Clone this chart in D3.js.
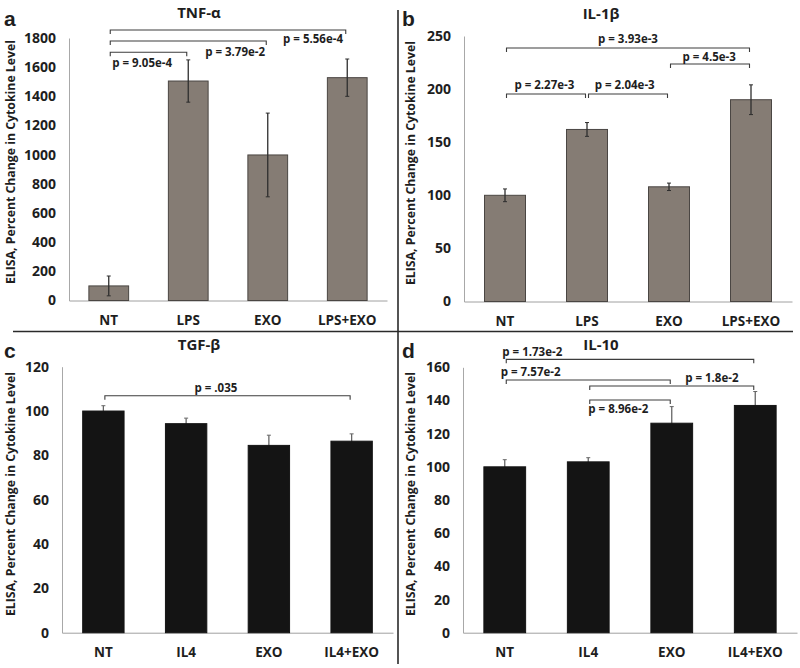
<!doctype html>
<html>
  <head>
    <meta charset="utf-8">
    <title>ELISA cytokine levels</title>
    <script src="https://cdnjs.cloudflare.com/ajax/libs/d3/7.8.5/d3.min.js"></script>
    <style>
      body { margin: 0; background: #fff; }
      text { font-family: "Open Sans", sans-serif; font-weight: 700; fill: #1e1e1e; }
      .panel-letter { font-family: "Liberation Sans", Arial, sans-serif; }
    </style>
  </head>
  <body>
    <div id="chart"></div>
    <script>
      // data
      const categoriesTop = ["NT", "LPS", "EXO", "LPS+EXO"];
      const categoriesBottom = ["NT", "IL4", "EXO", "IL4+EXO"];

      const tnfValues = [100, 1505, 998, 1528];
      const tnfErrors = [68, 145, 287, 128];
      const tnfTicks = [0, 200, 400, 600, 800, 1000, 1200, 1400, 1600, 1800];

      const il1bValues = [100, 162, 108, 190];
      const il1bErrors = [6, 6.5, 3.5, 14];
      const il1bTicks = [0, 50, 100, 150, 200, 250];

      const tgfValues = [100, 94.3, 84.5, 86.4];
      const tgfErrors = [2.4, 2.5, 4.6, 3.3];
      const tgfTicks = [0, 20, 40, 60, 80, 100, 120];

      const il10Values = [100, 103, 126.3, 137];
      const il10Errors = [4.3, 2.5, 10, 8.4];
      const il10Ticks = [0, 20, 40, 60, 80, 100, 120, 140, 160];

      // significance brackets: category indexes, height in data units, label spot
      const tnfBrackets = [
        {from: 0, to: 3, y: 1855, label: "p = 5.56e-4", lx: 2.57, ly: 1793},
        {from: 0, to: 2, y: 1779, label: "p = 3.79e-2", lx: 1.59, ly: 1704},
        {from: 0, to: 1, y: 1702, label: "p = 9.05e-4", lx: 0.42, ly: 1628}
      ];
      const il1bBrackets = [
        {from: 0, to: 3, y: 238.7, label: "p = 3.93e-3", lx: 1.5, ly: 247},
        {from: 2, to: 3, y: 223.6, label: "p = 4.5e-3", lx: 2.49, ly: 230},
        {from: 0, to: 1, y: 195.4, label: "p = 2.27e-3", lx: 0.48, ly: 204},
        {from: 1, to: 2, y: 195.4, label: "p = 2.04e-3", lx: 1.46, ly: 204}
      ];
      const tgfBrackets = [
        {from: 0, to: 3, y: 106.9, label: "p = .035", lx: 1.36, ly: 110.4}
      ];
      const il10Brackets = [
        {from: 0, to: 3, y: 164.8, label: "p = 1.73e-2", lx: 0.33, ly: 169.4},
        {from: 0, to: 2, y: 152.3, label: "p = 7.57e-2", lx: 0.31, ly: 157.3},
        {from: 1, to: 3, y: 148.7, label: "p = 1.8e-2", lx: 2.48, ly: 153.7},
        {from: 1, to: 2, y: 140.3, label: "p = 8.96e-2", lx: 1.36, ly: 135}
      ];

      const svg = d3.select('#chart')
        .append('svg')
        .attr('width', 800)
        .attr('height', 668);

      // panel separators
      svg.append('line')
        .attr('x1', 398).attr('x2', 398).attr('y1', 10).attr('y2', 664)
        .attr('stroke', '#2a2a2a').attr('stroke-width', 1.6);
      svg.append('line')
        .attr('x1', 13).attr('x2', 793).attr('y1', 331.5).attr('y2', 331.5)
        .attr('stroke', '#2a2a2a').attr('stroke-width', 1.6);

      function drawPanel(p) {
        const g = svg.append('g');

        const x = d3.scaleBand()
          .domain(p.categories)
          .range([p.left, p.right])
          .paddingInner(0.5)
          .paddingOuter(0.25);

        const y = d3.scaleLinear()
          .domain([0, p.max])
          .range([p.bottom, p.top]);

        const step = x.step();
        const cx = i => x(p.categories[i]) + x.bandwidth() / 2;

        // y axis
        const yAxis = g.append('g')
          .attr('transform', `translate(${p.left},0)`)
          .call(d3.axisLeft(y).tickValues(p.ticks).tickFormat(d3.format('d'))
            .tickSize(0).tickPadding(13));
        yAxis.select('.domain').attr('stroke', '#a8a8a8');
        yAxis.selectAll('text')
          .style('font-size', '14px')
          .style('font-family', '"Open Sans", sans-serif')
          .style('font-weight', 700)
          .attr('fill', '#1e1e1e');

        // x axis
        const xAxis = g.append('g')
          .attr('transform', `translate(0,${p.bottom})`)
          .call(d3.axisBottom(x).tickSize(0).tickSizeOuter(0).tickPadding(15));
        xAxis.select('.domain').attr('stroke', '#a0a0a0');
        xAxis.selectAll('text')
          .style('font-size', '13.5px')
          .style('font-family', '"Open Sans", sans-serif')
          .style('font-weight', 700)
          .attr('fill', '#1e1e1e');

        // error bars (behind the bars on the black panels)
        const drawErrors = () => {
          const err = g.selectAll('g.err')
            .data(p.values)
            .join('g')
            .attr('class', 'err');
          err.append('line')
            .attr('x1', (d, i) => cx(i)).attr('x2', (d, i) => cx(i))
            .attr('y1', (d, i) => y(d + p.errors[i]))
            .attr('y2', (d, i) => y(d - p.errors[i]))
            .attr('stroke', p.errColor).attr('stroke-width', 1.3);
          err.append('line')
            .attr('x1', (d, i) => cx(i) - 2).attr('x2', (d, i) => cx(i) + 2)
            .attr('y1', (d, i) => y(d + p.errors[i]))
            .attr('y2', (d, i) => y(d + p.errors[i]))
            .attr('stroke', p.errColor).attr('stroke-width', 1);
          err.append('line')
            .attr('x1', (d, i) => cx(i) - 2).attr('x2', (d, i) => cx(i) + 2)
            .attr('y1', (d, i) => y(d - p.errors[i]))
            .attr('y2', (d, i) => y(d - p.errors[i]))
            .attr('stroke', p.errColor).attr('stroke-width', 1);
        };

        if (p.errBehind) drawErrors();

        // bars
        g.selectAll('rect.bar')
          .data(p.values)
          .join('rect')
          .attr('class', 'bar')
          .attr('x', (d, i) => x(p.categories[i]))
          .attr('y', d => y(d))
          .attr('width', x.bandwidth())
          .attr('height', d => y(0) - y(d))
          .attr('fill', p.fill)
          .attr('stroke', p.stroke)
          .attr('stroke-width', 1);

        if (!p.errBehind) drawErrors();

        // brackets
        g.selectAll('path.bracket')
          .data(p.brackets)
          .join('path')
          .attr('class', 'bracket')
          .attr('d', b => {
            const x1 = cx(b.from) + 1.5, x2 = cx(b.to) - 1.5, yy = y(b.y);
            return `M${x1},${yy + 4}V${yy}H${x2}V${yy + 4}`;
          })
          .attr('fill', 'none')
          .attr('stroke', '#3c3c3c')
          .attr('stroke-width', 1.1);

        g.selectAll('text.plabel')
          .data(p.brackets)
          .join('text')
          .attr('class', 'plabel')
          .attr('x', b => cx(0) + b.lx * step)
          .attr('y', b => y(b.ly))
          .attr('dy', '0.36em')
          .attr('text-anchor', 'middle')
          .style('font-size', '11.5px')
          .text(b => b.label);

        // title, panel letter, y title
        g.append('text')
          .attr('x', p.titleX).attr('y', p.titleY)
          .attr('text-anchor', 'middle')
          .style('font-size', '15px')
          .text(p.title);

        g.append('text')
          .attr('class', 'panel-letter')
          .attr('x', p.letterX).attr('y', p.letterY)
          .style('font-size', '21px')
          .text(p.letter);

        g.append('text')
          .attr('transform', `translate(${p.yTitleX},${p.yTitleY}) rotate(-90)`)
          .attr('text-anchor', 'middle')
          .attr('textLength', 244)
          .attr('lengthAdjust', 'spacingAndGlyphs')
          .style('font-size', '13px')
          .text('ELISA, Percent Change in Cytokine Level');
      }

      drawPanel({
        categories: categoriesTop, values: tnfValues, errors: tnfErrors, ticks: tnfTicks,
        brackets: tnfBrackets, max: 1800,
        left: 69, right: 387, top: 38, bottom: 300.5,
        fill: '#857c74', stroke: '#4a4643', errColor: '#2e2e2e', errBehind: false,
        title: 'TNF-α', titleX: 199, titleY: 18,
        letter: 'a', letterX: 4, letterY: 26, yTitleX: 15, yTitleY: 162
      });

      drawPanel({
        categories: categoriesTop, values: il1bValues, errors: il1bErrors, ticks: il1bTicks,
        brackets: il1bBrackets, max: 250,
        left: 464, right: 792, top: 36, bottom: 301.5,
        fill: '#857c74', stroke: '#4a4643', errColor: '#2e2e2e', errBehind: false,
        title: 'IL-1β', titleX: 601, titleY: 19,
        letter: 'b', letterX: 402, letterY: 26, yTitleX: 415, yTitleY: 163
      });

      drawPanel({
        categories: categoriesBottom, values: tgfValues, errors: tgfErrors, ticks: tgfTicks,
        brackets: tgfBrackets, max: 120,
        left: 62, right: 393, top: 366.7, bottom: 632.7,
        fill: '#141414', stroke: '#141414', errColor: '#666', errBehind: true,
        title: 'TGF-β', titleX: 199, titleY: 350,
        letter: 'c', letterX: 4, letterY: 358, yTitleX: 15, yTitleY: 494
      });

      drawPanel({
        categories: categoriesBottom, values: il10Values, errors: il10Errors, ticks: il10Ticks,
        brackets: il10Brackets, max: 160,
        left: 463, right: 797, top: 367.3, bottom: 632.7,
        fill: '#141414', stroke: '#141414', errColor: '#666', errBehind: true,
        title: 'IL-10', titleX: 601, titleY: 350,
        letter: 'd', letterX: 402, letterY: 358, yTitleX: 415, yTitleY: 494
      });
    </script>
  </body>
</html>
